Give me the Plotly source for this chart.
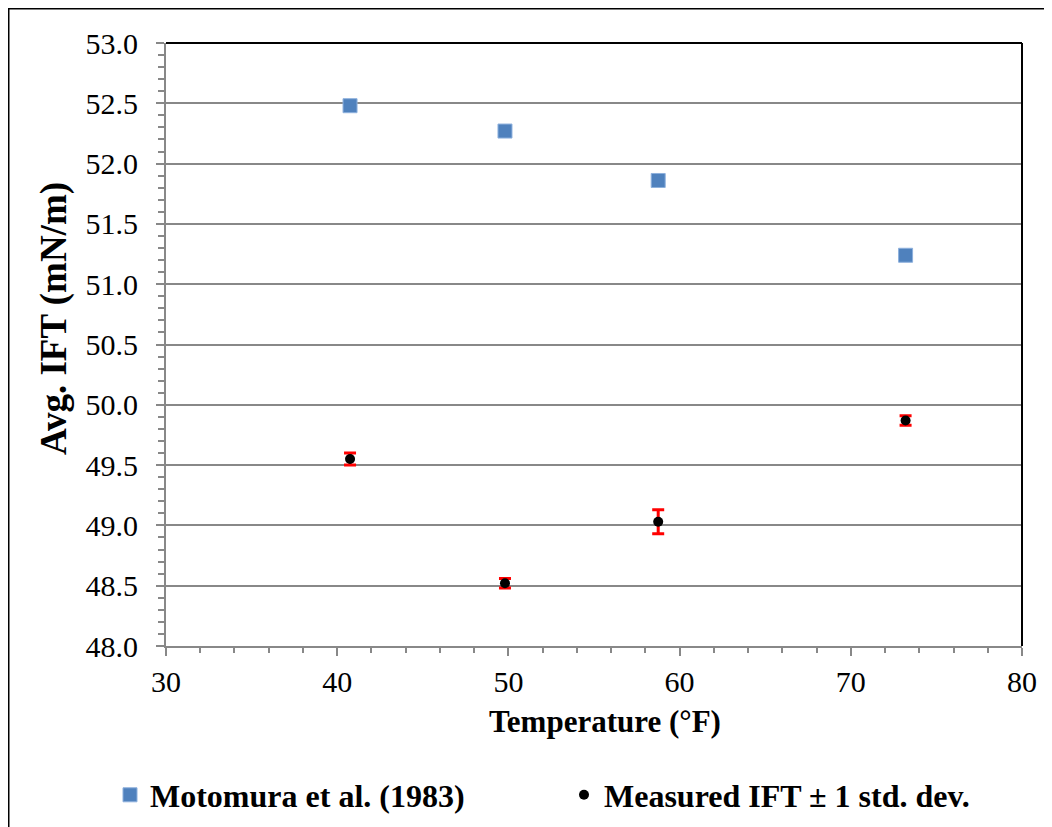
import plotly.graph_objects as go

temperature_f = [40.75, 49.8, 58.75, 73.2]
motomura_ift = [52.48, 52.27, 51.86, 51.24]
measured_ift = [49.55, 48.52, 49.03, 49.87]
measured_std = [0.05, 0.04, 0.10, 0.04]

series_names = ["Motomura et al. (1983)", "Measured IFT ± 1 std. dev."]
x_title = "Temperature (°F)"
y_title = "Avg. IFT (mN/m)"

FONT = "Liberation Serif"
OFF = 8  # page body margin (figure starts at window x=8, y=8)
W, H = 1052 - OFF, 827 - OFF
L, T = 166 - OFF, 43 - OFF
R, B = 1052 - 1022, 827 - 646
PW, PH = W - L - R, H - T - B

def px_x(p):
    return (p - OFF - L) / PW

def px_y(p):
    return (H - B - (p - OFF)) / PH

fig = go.Figure()
fig.add_trace(go.Scatter(
    x=temperature_f, y=motomura_ift, mode="markers", name=series_names[0],
    marker=dict(symbol="square", size=14, color="#4F81BD",
                line=dict(color="#8DB0DD", width=1)),
))
fig.add_trace(go.Scatter(
    x=temperature_f, y=measured_ift, mode="markers", name=series_names[1],
    marker=dict(symbol="circle", size=10, color="black"),
    error_y=dict(type="data", array=measured_std, visible=True,
                 color="#FF0000", thickness=3, width=6),
))

grid = "#888888"
tick_font = dict(family=FONT, size=30, color="black")
fig.update_xaxes(
    range=[30, 80], dtick=10, tick0=30, showgrid=False, zeroline=False,
    showline=True, linecolor=grid, linewidth=2,
    ticks="outside", ticklen=8, tickwidth=2, tickcolor=grid,
    minor=dict(dtick=2, ticks="outside", ticklen=5, tickwidth=2, tickcolor=grid),
    tickfont=tick_font,
    ticklabelstandoff=0,
    automargin=False,
)
fig.update_yaxes(
    range=[48, 53], dtick=0.5, tick0=48, tickformat=".1f",
    showgrid=True, gridcolor=grid, gridwidth=2, zeroline=False,
    showline=True, linecolor=grid, linewidth=2,
    ticks="outside", ticklen=8, tickwidth=2, tickcolor=grid,
    minor=dict(dtick=0.1, ticks="outside", ticklen=6, tickwidth=2,
               tickcolor=grid, showgrid=False),
    tickfont=tick_font,
    ticklabelstandoff=12,
    automargin=False,
)

fig.update_layout(
    width=W, height=H,
    margin=dict(l=L, r=R, t=T, b=B, pad=0, autoexpand=False),
    paper_bgcolor="white", plot_bgcolor="white",
    font=dict(family=FONT, color="black"),
    showlegend=True,
    legend=dict(orientation="h", x=px_x(110), y=px_y(795),
                xanchor="left", yanchor="middle",
                entrywidth=409, entrywidthmode="pixels",
                font=dict(family=FONT, size=32, color="black"),
                bgcolor="rgba(0,0,0,0)"),
    annotations=[
        dict(text="<b>" + x_title + "</b>", xref="paper", yref="paper",
             x=px_x(605), y=px_y(721), xanchor="center", yanchor="middle",
             showarrow=False, font=dict(family=FONT, size=31, color="black")),
        dict(text="<b>" + y_title + "</b>", xref="paper", yref="paper",
             x=px_x(54), y=px_y(319), xanchor="center", yanchor="middle",
             textangle=-90, showarrow=False,
             font=dict(family=FONT, size=37, color="black")),
    ],
    shapes=[
        dict(type="line", xref="paper", yref="paper", x0=0, x1=1, y0=1, y1=1,
             line=dict(color="black", width=2)),
        dict(type="line", xref="paper", yref="paper", x0=1, x1=1, y0=0, y1=1,
             line=dict(color="black", width=2)),
        dict(type="rect", xref="paper", yref="paper",
             x0=px_x(8), x1=px_x(1100), y0=px_y(870), y1=px_y(8),
             line=dict(color="black", width=3), fillcolor="rgba(0,0,0,0)"),
    ],
)
fig.for_each_trace(lambda t: t.update(name="<b>" + t.name + "</b>"))

fig.write_html("out.html")
